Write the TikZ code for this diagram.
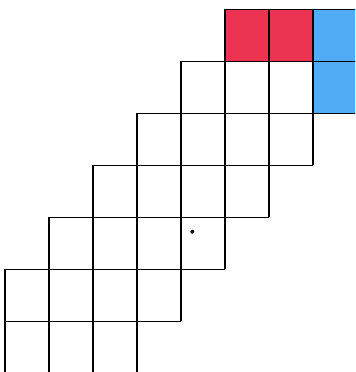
\documentclass[tikz,border=0pt]{standalone}
\usepackage{xcolor}
\usepackage{tikz}
\definecolor{cell_red}{RGB}{236,52,82}
\definecolor{cell_blue}{RGB}{82,172,245}

\begin{document}
\begin{tikzpicture}[x=44pt, y=52pt, line width=1.3pt, xstep=44pt, ystep=52pt]
    % Frame
    \useasboundingbox (-0.114,0.025) rectangle (7.955,7.179);
    \clip (-0.114,0.025) rectangle (7.955,7.179);

    % Coloured cells
    \fill[cell_red] (5,6) rectangle (7,7);
    \fill[cell_blue] (7,5) rectangle (8,7);

    % Staircase rows
    \draw (5,6) grid (8,7);
    \draw (4,5) grid (8,6);
    \draw (3,4) grid (7,5);
    \draw (2,3) grid (6,4);
    \draw (1,2) grid (5,3);
    \draw (0,1) grid (4,2);
    \draw (0,0) grid (3,1);

    % Marker
    \fill (4.257,2.723) circle (2pt);
\end{tikzpicture}
\end{document}
